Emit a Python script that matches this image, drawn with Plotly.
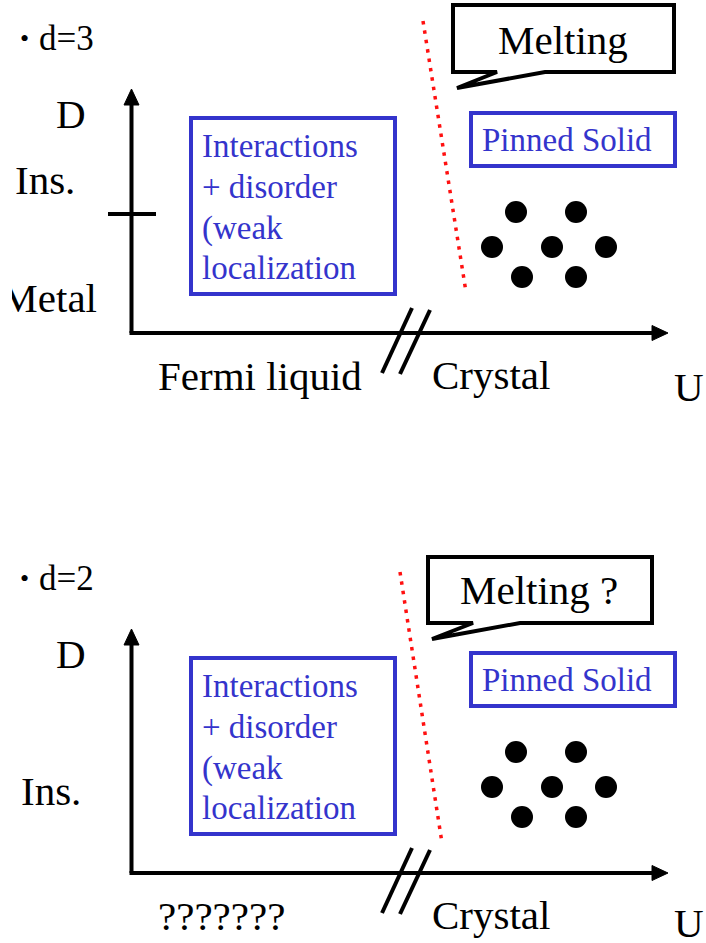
import plotly.graph_objects as go

# ---------------- data (diagram content) ----------------
panel_offsets = [0, 540]                 # vertical offset of the two panels (px)
panel_titles = ["d=3", "d=2"]
bubble_texts = ["Melting", "Melting ?"]
liquid_labels = ["Fermi liquid", "???????"]
region_lines = ["Interactions", "+ disorder", "(weak", "localization"]
solid_label = "Pinned Solid"
crystal_label = "Crystal"
axis_labels = ["D", "U"]

# crystal lattice points (relative to panel)
lattice_x = [516, 576, 492, 552, 606, 522, 576]
lattice_y = [212, 212, 247, 247, 247, 277, 277]

# melting boundary endpoints per panel ((x0,y0),(x1,y1)), relative to panel
melting_lines = [((423, 21), (466, 292)), ((400, 32), (442, 303))]
# speech bubbles: rect x0,y0,x1,y1 ; tail tip ; tail base points
bubbles = [
    dict(rect=(453, 5, 674, 72), tip=(457, 88), base=(497, 545), cx=563, cy=40),
    dict(rect=(428, 17, 652, 83), tip=(432, 99), base=(473, 520), cx=539, cy=50),
]
ins_pos = [(45, 180), (51, 251)]
u_pos = [387, 383]

# ---------------- styling ----------------
W, H = 706, 943
SERIF = "Liberation Serif"
BLUE = "#3434CC"
BLACK = "#000000"
LW = 4

fig = go.Figure()
shapes = []
annotations = []


def ann(x, y, text, size, color=BLACK, xanchor="left", yanchor="middle", **kw):
    annotations.append(dict(x=x, y=y, xref="x", yref="y", text=text, showarrow=False,
                            xanchor=xanchor, yanchor=yanchor, borderpad=0,
                            font=dict(family=SERIF, size=size, color=color), **kw))


for p, dy in enumerate(panel_offsets):
    # axes
    shapes.append(dict(type="line", x0=131.5, y0=101 + dy, x1=131.5, y1=333 + dy,
                       line=dict(color=BLACK, width=LW)))
    shapes.append(dict(type="line", x0=129.5, y0=333 + dy, x1=655, y1=333 + dy,
                       line=dict(color=BLACK, width=LW)))
    shapes.append(dict(type="path", path=f"M131.5,{89+dy} L124,{105+dy} L139,{105+dy} Z",
                       fillcolor=BLACK, line=dict(color=BLACK, width=1)))
    shapes.append(dict(type="path", path=f"M668,{333+dy} L652,{325.5+dy} L652,{340.5+dy} Z",
                       fillcolor=BLACK, line=dict(color=BLACK, width=1)))
    # break mark
    shapes.append(dict(type="line", x0=412, y0=308 + dy, x1=382, y1=373 + dy,
                       line=dict(color=BLACK, width=LW)))
    shapes.append(dict(type="line", x0=430, y0=310 + dy, x1=400, y1=374 + dy,
                       line=dict(color=BLACK, width=LW)))
    # region boxes
    shapes.append(dict(type="rect", x0=191, y0=118 + dy, x1=395, y1=294 + dy,
                       line=dict(color=BLUE, width=LW)))
    shapes.append(dict(type="rect", x0=471, y0=113 + dy, x1=675, y1=166 + dy,
                       line=dict(color=BLUE, width=LW)))
    # speech bubble
    b = bubbles[p]
    x0, y0, x1, y1 = b["rect"]
    tx, ty = b["tip"]
    bl, br = b["base"]
    path = (f"M{x0},{y0+dy} L{x1},{y0+dy} L{x1},{y1+dy} L{br},{y1+dy} "
            f"L{tx},{ty+dy} L{bl},{y1+dy} L{x0},{y1+dy} Z")
    shapes.append(dict(type="path", path=path, fillcolor="white",
                       line=dict(color=BLACK, width=LW)))
    ann(b["cx"], b["cy"] + dy, bubble_texts[p], 41, xanchor="center")

    # melting (red dotted) boundary
    (mx0, my0), (mx1, my1) = melting_lines[p]
    fig.add_trace(go.Scatter(x=[mx0, mx1], y=[my0 + dy, my1 + dy], mode="lines",
                             line=dict(color="#FF1010", width=3.5, dash="3.5px,6px"),
                             hoverinfo="skip", showlegend=False))
    # lattice
    fig.add_trace(go.Scatter(x=lattice_x, y=[v + dy for v in lattice_y], mode="markers",
                             marker=dict(size=22, color=BLACK, line=dict(width=0)),
                             hoverinfo="skip", showlegend=False))

    # texts
    ann(24, 38 + dy, "•", 26, xanchor="center")
    ann(38, 38.5 + dy, panel_titles[p], 35)
    ann(71, 114 + dy, axis_labels[0], 41, xanchor="center")
    ix, iy = ins_pos[p]
    ann(ix, iy + dy, "Ins.", 41, xanchor="center")
    for i, (line, yy) in enumerate(zip(region_lines, [146, 187, 228, 268])):
        ann(201, yy + dy, line, 33, color=BLUE)
    ann(481, 140 + dy, solid_label, 33, color=BLUE)
    ann(157, 376 + dy, liquid_labels[p], 41)
    ann(431, 375 + dy, crystal_label, 41)
    ann(705, u_pos[p] + dy, axis_labels[1], 41, xanchor="right")

# top-panel only: metal/insulator tick and clipped "Metal"
shapes.append(dict(type="line", x0=108, y0=214, x1=156, y1=214,
                   line=dict(color=BLACK, width=LW)))
ann(98, 298, "Metal", 41, xanchor="right", width=85, align="right")

fig.update_layout(
    width=W, height=H, margin=dict(l=0, r=0, t=0, b=0),
    paper_bgcolor="white", plot_bgcolor="white",
    font=dict(family=SERIF),
    xaxis=dict(range=[0, W], visible=False, fixedrange=True),
    yaxis=dict(range=[H, 0], visible=False, fixedrange=True),
    shapes=shapes, annotations=annotations, showlegend=False,
)

fig.write_html("out.html", config={"displayModeBar": False},
               post_script="document.body.style.margin='0';document.body.style.overflow='hidden';")
